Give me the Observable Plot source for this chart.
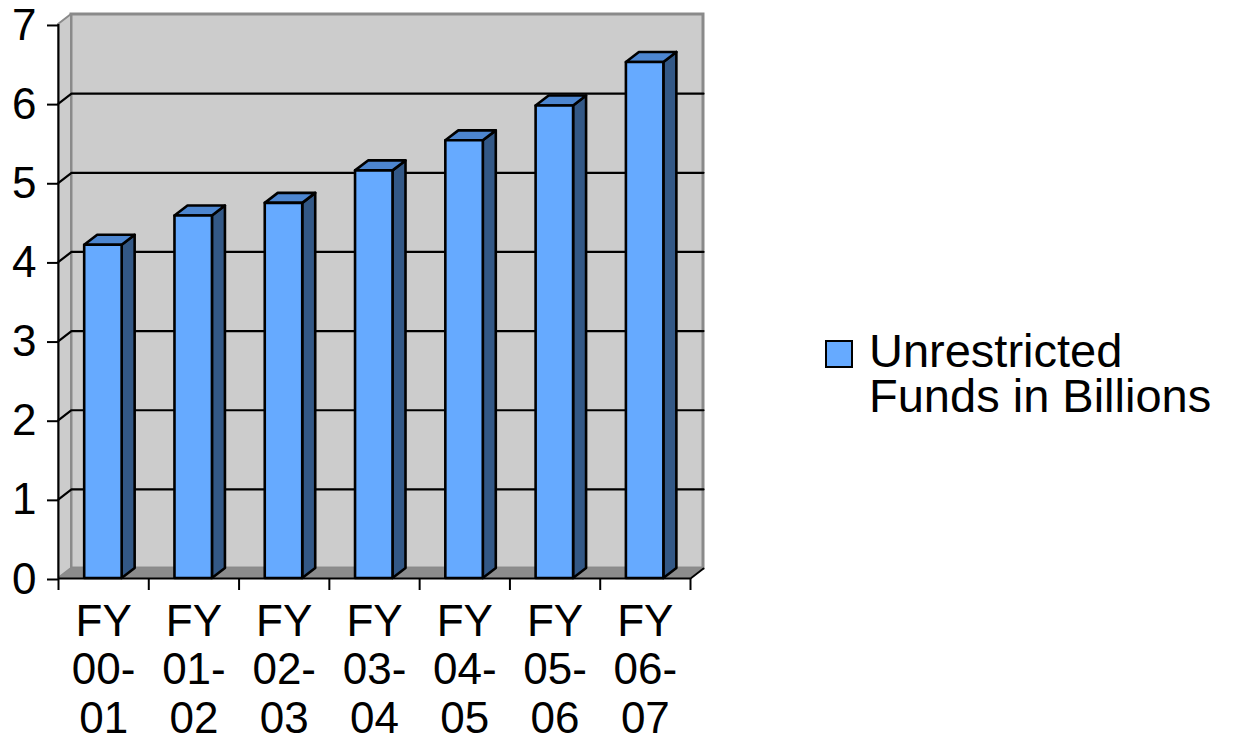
<!DOCTYPE html>
<html>
<head>
<meta charset="utf-8">
<script src="https://cdn.jsdelivr.net/npm/d3@7"></script>
<script src="https://cdn.jsdelivr.net/npm/@observablehq/plot@0.6"></script>
<style>
  html, body { margin: 0; padding: 0; background: #fff; }
  #wrap { position: relative; width: 1233px; height: 744px; overflow: hidden; font-family: "Liberation Sans", Arial, Helvetica, sans-serif; }
  #legend { position: absolute; left: 825px; top: 328px; display: flex; align-items: flex-start; }
  #legend .sw { width: 24px; height: 24px; background: #66aaff; border: 2px solid #000; margin-top: 12px; margin-right: 16px; flex: none; }
  #legend .lbl { font-size: 47px; line-height: 45px; color: #000; width: 370px; }
</style>
</head>
<body>
<div id="wrap"></div>
<script>
// ---- data ----
const categories = ["FY 00-01", "FY 01-02", "FY 02-03", "FY 03-04", "FY 04-05", "FY 05-06", "FY 06-07"];
const xLabels = ["FY\n00-\n01", "FY\n01-\n02", "FY\n02-\n03", "FY\n03-\n04", "FY\n04-\n05", "FY\n05-\n06", "FY\n06-\n07"];
const values = [4.21, 4.58, 4.74, 5.15, 5.53, 5.97, 6.52];
const yTicks = [0, 1, 2, 3, 4, 5, 6, 7];
const gridValues = [1, 2, 3, 4, 5, 6];
const seriesName = "Unrestricted Funds in Billions";

// ---- 3D geometry (in data units) ----
const N = categories.length;
const YMAX = 7;
const DX = 0.144, DY = 0.126;     // depth offset
const BAR_L = 0.29, BAR_R = 0.705; // bar position within a category slot

const bars = values.map((v, i) => ({i, name: categories[i], v, x1: i + BAR_L, x2: i + BAR_R}));
const sidePts = bars.flatMap(b => [
  {i: b.i, x: b.x2, y1: 0, y2: b.v},
  {i: b.i, x: b.x2 + DX, y1: DY, y2: b.v + DY}
]);
const topPts = bars.flatMap(b => [
  {i: b.i, x: b.x1, y1: b.v, y2: b.v},
  {i: b.i, x: b.x1 + DX, y1: b.v, y2: b.v + DY},
  {i: b.i, x: b.x2, y1: b.v, y2: b.v + DY},
  {i: b.i, x: b.x2 + DX, y1: b.v + DY, y2: b.v + DY}
]);
const gridPts = gridValues.flatMap(k => [
  {k, x: 0, y: k},
  {k, x: DX, y: k + DY},
  {k, x: N + DX, y: k + DY}
]);
const leftWall = [{x: 0, y1: 0, y2: YMAX}, {x: DX, y1: DY, y2: YMAX + DY}];
const floor = [
  {x: 0, y1: 0, y2: 0},
  {x: DX, y1: 0, y2: DY},
  {x: N, y1: 0, y2: DY},
  {x: N + DX, y1: DY, y2: DY}
];
const floorRight = [{x: N, y: 0}, {x: N + DX, y: DY}];

const font = "Liberation Sans, Arial, Helvetica, sans-serif";

const chart = Plot.plot({
  width: 1233,
  height: 744,
  marginTop: 14,
  marginBottom: 166,
  marginLeft: 58,
  marginRight: 530,
  style: {fontFamily: font, background: "white", overflow: "visible"},
  x: {domain: [0, N + DX], range: [58, 703]},
  y: {domain: [0, YMAX + DY], range: [578, 14]},
  marks: [
    // back wall
    Plot.rect([0], {x1: () => DX, x2: () => N + DX, y1: () => DY, y2: () => YMAX + DY,
      fill: "#cccccc", stroke: "#8a8a8a", strokeWidth: 3}),
    // left wall
    Plot.area(leftWall, {x1: "x", y1: "y1", y2: "y2", fill: "#cccccc", stroke: "#8a8a8a", strokeWidth: 2}),
    // floor
    Plot.area(floor, {x1: "x", y1: "y1", y2: "y2", fill: "#8c8c8c"}),
    Plot.line(floorRight, {x: "x", y: "y", stroke: "#000", strokeWidth: 2}),
    // gridlines
    Plot.line(gridPts, {x: "x", y: "y", z: "k", stroke: "#000", strokeWidth: 2.2}),
    // bars: side faces
    Plot.area(sidePts, {x1: "x", y1: "y1", y2: "y2", z: "i", fill: "#335886",
      stroke: "#000", strokeWidth: 2.6, strokeLinejoin: "round"}),
    // bars: top faces
    Plot.area(topPts, {x1: "x", y1: "y1", y2: "y2", z: "i", fill: "#4d86d0",
      stroke: "#000", strokeWidth: 2.6, strokeLinejoin: "round"}),
    // bars: front faces
    Plot.rect(bars, {x1: "x1", x2: "x2", y1: 0, y2: "v", fill: "#66aaff",
      stroke: "#000", strokeWidth: 2.6, strokeLinejoin: "round", title: d => `${d.name}: ${d.v}`}),
    // axis lines
    Plot.ruleX([0], {y1: 0, y2: YMAX, stroke: "#000", strokeWidth: 2}),
    Plot.ruleY([0], {x1: 0, x2: N, stroke: "#000", strokeWidth: 2}),
    // y axis
    Plot.axisY({ticks: yTicks, tickSize: 11, tickPadding: 11, fontSize: 44, label: null,
      tickFormat: d3.format("d"), strokeWidth: 2, dy: 1, fill: "#000", stroke: "#000"}),
    // x axis ticks
    Plot.axisX({ticks: d3.range(N + 1), tickSize: 12, tickFormat: () => "", label: null, strokeWidth: 2, stroke: "#000"}),
    // x labels
    Plot.text(xLabels, {x: (d, i) => i + 0.5, y: () => 0, text: d => d, lineAnchor: "top",
      dy: 23, fontSize: 44, lineHeight: 1.1, fill: "#000"})
  ]
});

const wrap = document.getElementById("wrap");
wrap.appendChild(chart);
const legend = document.createElement("div");
legend.id = "legend";
legend.innerHTML = `<div class="sw"></div><div class="lbl"></div>`;
legend.querySelector(".lbl").textContent = seriesName;
wrap.appendChild(legend);
</script>
</body>
</html>
